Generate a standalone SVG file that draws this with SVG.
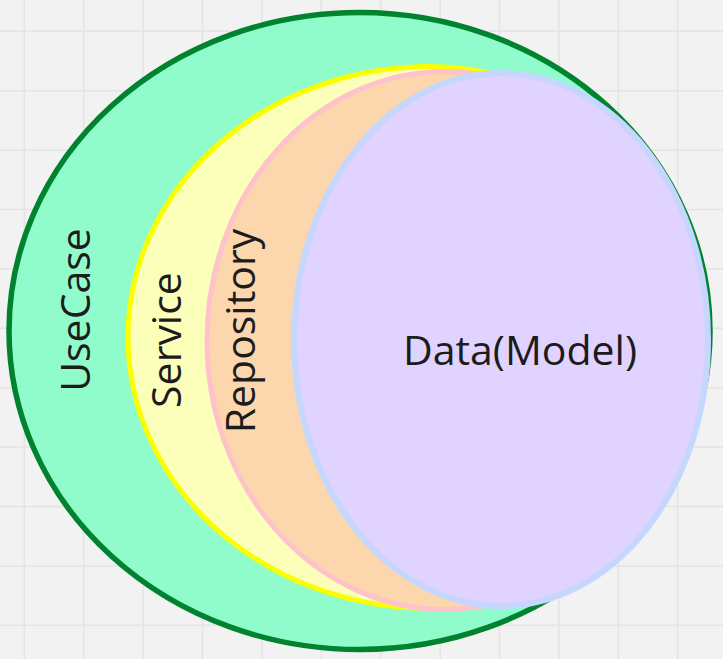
<svg xmlns="http://www.w3.org/2000/svg" width="723" height="659" viewBox="0 0 723 659">
  <style>
    .grid { stroke: #e4e4e4; stroke-width: 1.5; fill: none; }
    .label { font-family: "Open Sans", "Noto Sans", "Liberation Sans", sans-serif; font-size: 41px; fill: #1c1c1c; text-anchor: middle; }
  </style>
  <rect x="0" y="0" width="723" height="659" fill="#f2f2f2"/>
  <path class="grid" d="M24.3 0V659 M83.7 0V659 M143.1 0V659 M202.5 0V659 M261.9 0V659 M321.3 0V659 M380.7 0V659 M440.1 0V659 M499.5 0V659 M558.9 0V659 M618.3 0V659 M677.7 0V659 M0 31.3H723 M0 90.7H723 M0 150.1H723 M0 209.5H723 M0 268.9H723 M0 328.3H723 M0 387.7H723 M0 447.1H723 M0 506.5H723 M0 565.9H723 M0 625.3H723"/>

  <g id="usecase">
    <ellipse cx="359.5" cy="331" rx="350.5" ry="318.5" fill="#90fbcb" stroke="#00832f" stroke-width="5.5"/>
    <text class="label" transform="translate(90,310) rotate(-90)">UseCase</text>
  </g>

  <g id="service">
    <path d="M430 66.5 A302 271 0 0 0 430 608.5 A270 271 0 0 0 430 66.5 Z" fill="#fbffb9" stroke="#f9ff00" stroke-width="5"/>
    <text class="label" transform="translate(181,340) rotate(-90)">Service</text>
  </g>

  <g id="repository">
    <path d="M445 71.5 A238 269 0 0 0 445 609.5 A240 269 0 0 0 445 71.5 Z" fill="#fcd6ac" stroke="#ffc2cb" stroke-width="5"/>
    <text class="label" transform="translate(255,331) rotate(-90)">Repository</text>
  </g>

  <g id="data">
    <ellipse cx="501" cy="339.5" rx="207" ry="266.5" fill="#e1d3ff" stroke="#c5d6ff" stroke-width="6"/>
    <text class="label" x="520" y="365">Data(Model)</text>
  </g>

  <g id="connectors"/>
</svg>
